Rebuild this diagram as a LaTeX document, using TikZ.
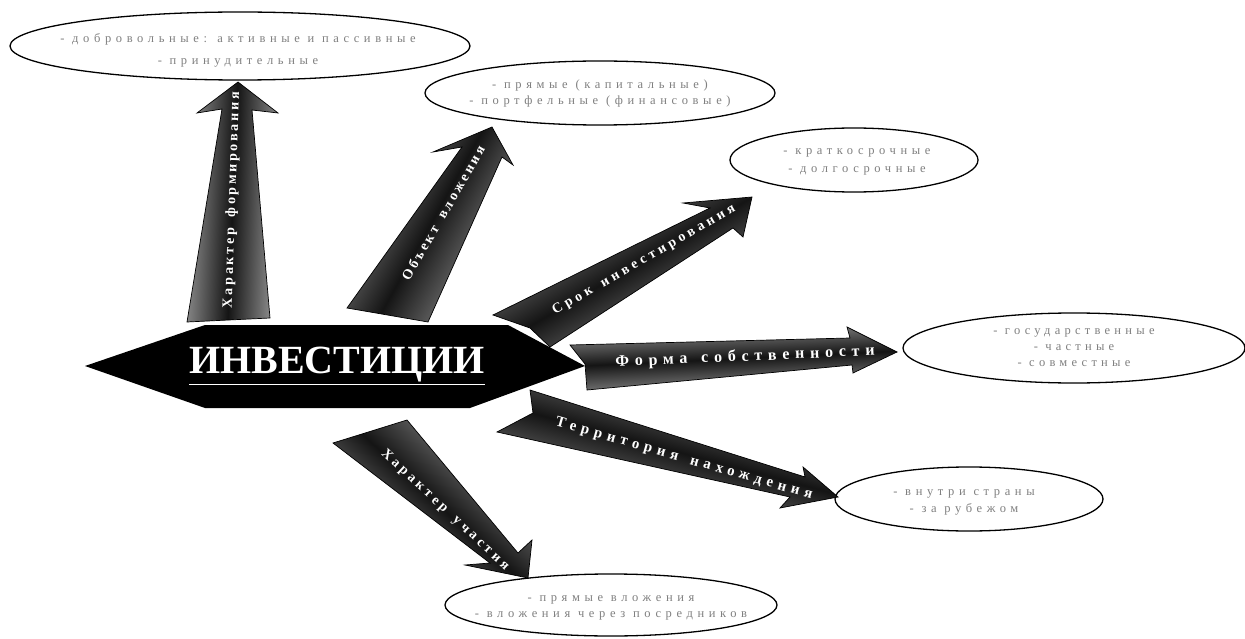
\documentclass[tikz,border=0pt]{standalone}
\usepackage{fontspec}
\setmainfont{Liberation Serif}
\newcommand\lsp[2]{{\addfontfeatures{LetterSpace=#1}#2}}
\newcommand\wsp{\hspace{4pt}}
\definecolor{etext}{gray}{0.5}
\begin{document}
\begin{tikzpicture}[x=1pt,y=-1pt,
  arr/.style={draw=black, line width=0.7pt, top color=black!40, bottom color=black!40, middle color=black!92, shading angle=#1},
  ellline/.style={draw=black, line width=1.3pt},
  etx/.style={inner sep=0pt, text=etext, align=center, font=\fontsize{12.5}{16}\selectfont},
  lbl/.style={text=white, font=\bfseries\fontsize{14}{14}\selectfont, inner sep=0pt}]
\useasboundingbox (0,0) rectangle (1245,639);
\fill[white] (0,0) rectangle (1245,639);

% ellipses
\coordinate (c1) at (240,46);
\coordinate (c2) at (600,93);
\coordinate (c3) at (854,160);
\coordinate (c4) at (1074,348);
\coordinate (c5) at (969,499);
\coordinate (c6) at (611,605);
\draw[ellline] (c1) ellipse [x radius=230, y radius=34];
\draw[ellline] (c2) ellipse [x radius=175, y radius=32];
\draw[ellline] (c3) ellipse [x radius=124, y radius=32];
\draw[ellline] (c4) ellipse [x radius=171, y radius=35];
\draw[ellline] (c5) ellipse [x radius=134, y radius=32];
\draw[ellline] (c6) ellipse [x radius=166, y radius=31];
\node[etx, font=\fontsize{12.5}{22}\selectfont] (t1) at (238,50)
  {\lsp{37}{- добровольные: активные и пассивные}\\ \lsp{37}{- принудительные}};
\node[etx] (t2) at (600,93)
  {\lsp{37}{- прямые (капитальные)}\\ \lsp{37}{- портфельные (финансовые)}};
\node[etx, font=\fontsize{12.5}{18}\selectfont] (t3) at (857,162)
  {\lsp{37}{- краткосрочные}\\ \lsp{37}{- долгосрочные}};
\node[etx] (t4) at (1074,348)
  {\lsp{34}{- государственные}\\ \lsp{34}{- частные}\\ \lsp{34}{- совместные}};
\node[etx, font=\fontsize{12.5}{17}\selectfont] (t5) at (964,502)
  {\lsp{37}{- внутри страны}\\ \lsp{37}{- за рубежом}};
\node[etx] (t6) at (611,608)
  {\lsp{37}{- прямые вложения}\\ \lsp{37}{- вложения через посредников}};

% arrows
\path[arr=87.6] (187,322) -- (222,109) -- (197,113) -- (238,82) -- (278,113) -- (252,110) -- (270,318) -- cycle;
\path[arr=60.9] (347,308) -- (462,147) -- (433,152) -- (492,127) -- (513,165) -- (502,157) -- (428,322) -- cycle;
\path[arr=30.1] (493,315) -- (710,208) -- (683,203) -- (752,197) -- (743,237) -- (733,228) -- (550,347) -- (530,328) -- cycle;
\path[arr=2.7] (570,345) -- (850,338) -- (847,327) -- (897,352) -- (853,373) -- (852,365) -- (587,390) -- (585,364) -- cycle;
\path[arr=-14.9] (530,390) -- (805,477) -- (803,467) -- (838,497) -- (780,508) -- (790,497) -- (497,432) -- (533,413) -- cycle;
\path[arr=-42.7] (333,443) -- (490,563) -- (465,565) -- (528,578) -- (532,540) -- (518,553) -- (407,420) -- cycle;

% hexagon
\fill[black] (85,366) -- (205,325) -- (508,325) -- (585,366) -- (470,408) -- (205,408) -- cycle;
\node[text=white, font=\bfseries\fontsize{40}{40}\selectfont, inner sep=0pt] (title) at (337,366) {\underline{ИНВЕСТИЦИИ}};

% arrow labels
\node[lbl, rotate=88] (l1) at (232,200) {\lsp{20}{Характер \wsp формирования}};
\node[lbl, rotate=60] (l2) at (443,213) {\lsp{20}{Объект \wsp вложения}};
\node[lbl, rotate=30] (l3) at (644,260) {\lsp{27}{Срок \wsp инвестирования}};
\node[lbl, rotate=2.5, font=\bfseries\fontsize{16}{16}\selectfont] (l4) at (745,357) {\lsp{36}{Форма \wsp собственности}};
\node[lbl, rotate=-16, font=\bfseries\fontsize{15}{15}\selectfont] (l5) at (684,459) {\lsp{34}{Территория \wsp нахождения}};
\node[lbl, rotate=-43] (l6) at (445,510) {\lsp{26}{Характер \wsp участия}};
\end{tikzpicture}
\end{document}
